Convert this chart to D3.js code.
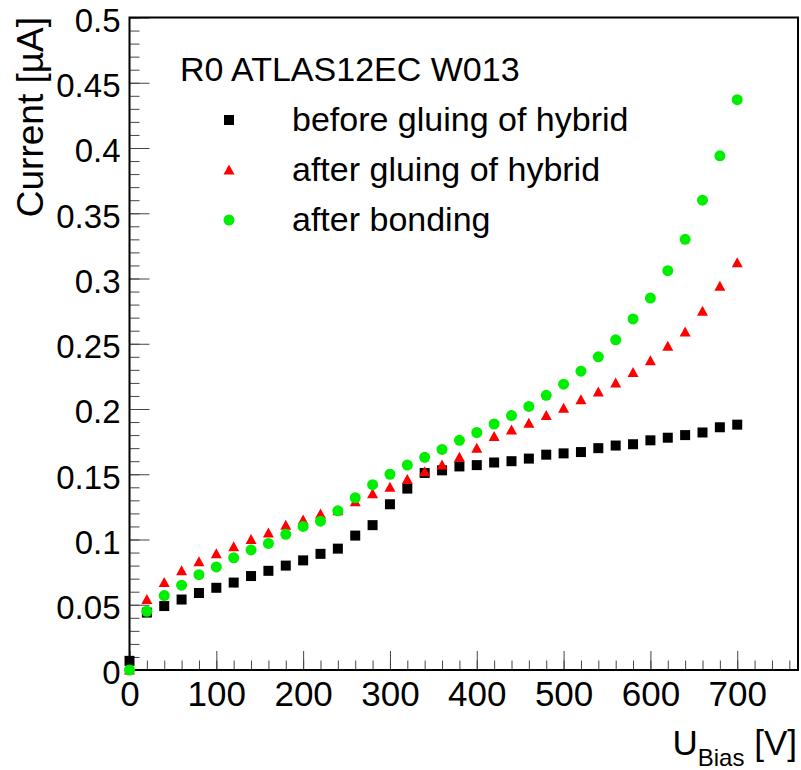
<!DOCTYPE html>
<html>
<head>
<meta charset="UTF-8">
<title>IV curve R0 ATLAS12EC W013</title>
<script src="https://d3js.org/d3.v7.min.js"></script>
<style>
  body { margin: 0; background: #fff; }
  svg { font-family: "Liberation Sans", Arial, Helvetica, sans-serif; }
</style>
</head>
<body>
<svg width="801" height="770"></svg>
<script>
// bias voltage [V]
const voltages = [0, 20, 40, 60, 80, 100, 120, 140, 160, 180, 200, 220, 240, 260, 280, 300, 320, 340,
  360, 380, 400, 420, 440, 460, 480, 500, 520, 540, 560, 580, 600, 620, 640, 660, 680, 700];

// current [uA]
const beforeGluing = [0.007, 0.044, 0.049, 0.054, 0.059, 0.063, 0.067, 0.072, 0.076, 0.080, 0.084, 0.089,
  0.093, 0.103, 0.111, 0.127, 0.139, 0.151, 0.153, 0.156, 0.157, 0.159, 0.160, 0.162, 0.165, 0.166,
  0.167, 0.170, 0.172, 0.173, 0.176, 0.178, 0.180, 0.182, 0.186, 0.188];
const afterGluing = [0.000, 0.054, 0.067, 0.076, 0.083, 0.089, 0.0945, 0.100, 0.105, 0.111, 0.115, 0.1195,
  0.122, 0.129, 0.135, 0.140, 0.146, 0.152, 0.157, 0.163, 0.170, 0.179, 0.184, 0.189, 0.195, 0.2005,
  0.207, 0.213, 0.220, 0.228, 0.237, 0.248, 0.259, 0.275, 0.294, 0.312];
const afterBonding = [0.000, 0.045, 0.057, 0.065, 0.073, 0.079, 0.086, 0.092, 0.097, 0.104, 0.110, 0.114,
  0.122, 0.132, 0.142, 0.150, 0.157, 0.163, 0.169, 0.176, 0.182, 0.1885, 0.195, 0.202, 0.2105, 0.219,
  0.229, 0.240, 0.253, 0.269, 0.285, 0.306, 0.330, 0.360, 0.394, 0.437];

const seriesNames = ['before gluing of hybrid', 'after gluing of hybrid', 'after bonding'];
const legendTitle = 'R0 ATLAS12EC W013';

const xMajorTicks = [0, 100, 200, 300, 400, 500, 600, 700];
const yMajorTicks = [0, 0.05, 0.1, 0.15, 0.2, 0.25, 0.3, 0.35, 0.4, 0.45, 0.5];

// marker looks, same order as seriesNames
const markerStyle = [
  { color: '#000000', shape: 'square' },
  { color: '#ff0000', shape: 'triangle' },
  { color: '#00ee00', shape: 'circle' }
];

const svg = d3.select('svg');

// frame / scales
const frameL = 129.5, frameR = 798, frameT = 17.5, frameB = 670;
const x = d3.scaleLinear().domain([0, 770]).range([frameL, frameR]);
const y = d3.scaleLinear().domain([0, 0.5]).range([frameB, frameT]);

// minor ticks
svg.append('g')
  .attr('transform', `translate(0,${frameB})`)
  .call(d3.axisBottom(x).tickValues(d3.range(0, 770, 20)).tickSize(-9.5).tickFormat(''))
  .call(g => g.select('.domain').remove())
  .call(g => g.selectAll('line').attr('stroke', '#444'));

svg.append('g')
  .attr('transform', `translate(${frameL},0)`)
  .call(d3.axisLeft(y).tickValues(d3.range(0, 51).map(i => i / 100)).tickSize(-10).tickFormat(''))
  .call(g => g.select('.domain').remove())
  .call(g => g.selectAll('line').attr('stroke', '#444'));

// major ticks with labels
svg.append('g')
  .attr('transform', `translate(0,${frameB})`)
  .call(d3.axisBottom(x).tickValues(xMajorTicks).tickSize(-19).tickPadding(11).tickFormat(d3.format('d')))
  .call(g => g.select('.domain').remove())
  .call(g => g.selectAll('line').attr('stroke', '#444'))
  .call(g => g.selectAll('text').attr('font-size', 35).attr('fill', '#000'))
  .attr('font-family', null);

svg.append('g')
  .attr('transform', `translate(${frameL},0)`)
  .call(d3.axisLeft(y).tickValues(yMajorTicks).tickSize(-20).tickPadding(9).tickFormat(d => String(d)))
  .call(g => g.select('.domain').remove())
  .call(g => g.selectAll('line').attr('stroke', '#444'))
  .call(g => g.selectAll('text').attr('font-size', 33).attr('dy', '0.42em').attr('fill', '#000'))
  .attr('font-family', null);

// frame
svg.append('rect')
  .attr('x', frameL).attr('y', frameT)
  .attr('width', frameR - frameL).attr('height', frameB - frameT)
  .attr('fill', 'none').attr('stroke', '#000').attr('stroke-width', 2);

// axis titles
svg.append('text')
  .attr('transform', 'translate(43,17) rotate(-90)')
  .attr('text-anchor', 'end')
  .attr('font-size', 37)
  .text('Current [\u00b5A]');

const xt = svg.append('text')
  .attr('x', 797).attr('y', 755)
  .attr('text-anchor', 'end')
  .attr('font-size', 35);
xt.append('tspan').text('U');
xt.append('tspan').attr('font-size', 24).attr('dy', 11).text('Bias');
xt.append('tspan').attr('dy', -11).text(' [V]');

// markers
function drawMarker(g, shape, color) {
  if (shape === 'square') {
    g.append('rect').attr('x', -5).attr('y', -5).attr('width', 10).attr('height', 10).attr('fill', color);
  } else if (shape === 'triangle') {
    g.append('path').attr('d', 'M0,-5.5L5.5,4.5L-5.5,4.5Z').attr('fill', color);
  } else {
    g.append('circle').attr('r', 5.5).attr('fill', color);
  }
}

const allSeries = [beforeGluing, afterGluing, afterBonding];
allSeries.forEach((vals, si) => {
  const st = markerStyle[si];
  svg.append('g')
    .selectAll('g')
    .data(voltages.map((v, i) => ({ v: v, c: vals[i] })))
    .join('g')
    .attr('transform', d => `translate(${x(d.v)},${y(d.c)})`)
    .each(function () { drawMarker(d3.select(this), st.shape, st.color); });
});

// legend
const legend = svg.append('g');
legend.append('text')
  .attr('x', 180).attr('y', 81)
  .attr('font-size', 34)
  .text(legendTitle);

seriesNames.forEach((name, i) => {
  const by = 131 + i * 50;
  const m = legend.append('g').attr('transform', `translate(229,${by - 11})`);
  drawMarker(m, markerStyle[i].shape, markerStyle[i].color);
  legend.append('text')
    .attr('x', 292).attr('y', by)
    .attr('font-size', 34)
    .text(name);
});
</script>
</body>
</html>
